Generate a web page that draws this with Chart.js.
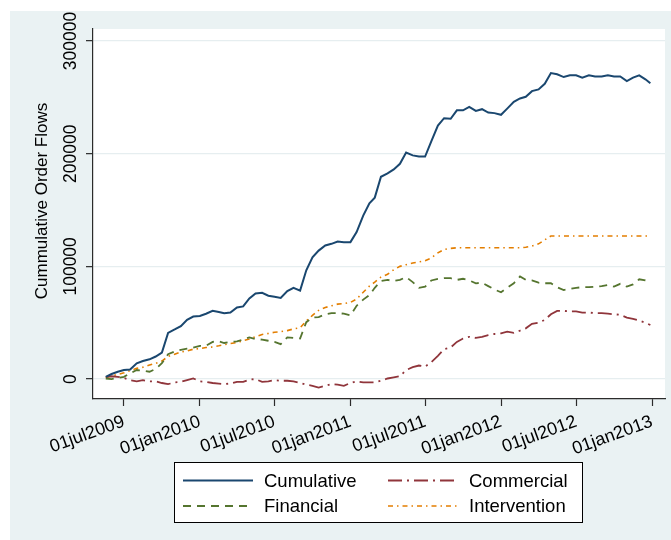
<!DOCTYPE html>
<html>
<head>
<meta charset="utf-8">
<title>Cummulative Order Flows</title>
<script src="https://cdn.jsdelivr.net/npm/chart.js@4.4.1/dist/chart.umd.min.js"></script>
<style>
  html, body { margin: 0; padding: 0; background: #ffffff; }
  canvas { display: block; }
</style>
</head>
<body>
<canvas id="flows" width="671" height="540"></canvas>
<script>
// Observation dates (semi-monthly)
const dates = [
  '2009-05-18','2009-06-01','2009-06-16','2009-07-01','2009-07-16','2009-08-01','2009-08-16','2009-09-01',
  '2009-09-16','2009-10-01','2009-10-16','2009-11-01','2009-11-16','2009-12-01','2009-12-16',
  '2010-01-01','2010-01-16','2010-02-01','2010-02-16','2010-03-01','2010-03-16','2010-04-01','2010-04-16',
  '2010-05-01','2010-05-16','2010-06-01','2010-06-16','2010-07-01','2010-07-16','2010-08-01','2010-08-16',
  '2010-09-01','2010-09-16','2010-10-01','2010-10-16','2010-11-01','2010-11-16','2010-12-01','2010-12-16',
  '2011-01-01','2011-01-16','2011-02-01','2011-02-16','2011-03-01','2011-03-16','2011-04-01','2011-04-16',
  '2011-05-01','2011-05-16','2011-06-01','2011-06-16','2011-07-01','2011-07-16','2011-08-01','2011-08-16',
  '2011-09-01','2011-09-16','2011-10-01','2011-10-16','2011-11-01','2011-11-16','2011-12-01','2011-12-16',
  '2012-01-01','2012-01-16','2012-02-01','2012-02-16','2012-03-01','2012-03-16','2012-04-01','2012-04-16',
  '2012-05-01','2012-05-16','2012-06-01','2012-06-16','2012-07-01','2012-07-16','2012-08-01','2012-08-16',
  '2012-09-01','2012-09-16','2012-10-01','2012-10-16','2012-11-01','2012-11-16','2012-12-01','2012-12-16',
  '2012-12-28'
];

const cumulative = [
  2000, 4500, 6500, 8000, 8500, 14000, 16000, 17500, 20000, 23500, 41000, 44000, 47000, 52500, 55500,
  56000, 58000, 60500, 59500, 58500, 59000, 63500, 64500, 71500, 76000, 76500, 74000,
  73000, 72000, 78000, 81000, 78500, 96500, 108000, 114000, 118500, 120000, 122000, 121500,
  121500, 130500, 145000, 156000, 161000, 179500, 182500, 186000, 191000, 201000, 198500, 197500,
  197500, 211000, 225000, 231500, 231000, 238500, 238500, 241500, 238000, 239500, 236500, 236000,
  234500, 240000, 246000, 249000, 250500, 255500, 257000, 262000, 271500, 270500, 268000, 269500,
  269500, 267500, 269500, 268500, 268500, 269500, 268500, 268500, 264500, 267500, 269500, 266000,
  262500
];

const financial = [
  500, 0, 1000, 2000, 5000, 8000, 7500, 6500, 9000, 14000, 22000, 24500, 26000, 27000, 28000,
  29500, 29500, 33000, 33500, 32000, 33000, 33500, 35000, 37000, 35500, 35000, 34000,
  33000, 31000, 37000, 36500, 36000, 50500, 54500, 55000, 57500, 58500, 58500, 58000,
  56500, 65000, 70500, 74500, 81000, 87000, 88000, 87000, 88000, 90500, 86000, 81000,
  82000, 87500, 89000, 89500, 89500, 88000, 89000, 87500, 85000, 85500, 82500, 79500,
  77000, 81000, 85000, 91000, 88000, 87500, 85500, 85000, 85000, 81500, 79000, 80000,
  81000, 81500, 81500, 82000, 82500, 83500, 82000, 84500, 82000, 84000, 88500, 87500,
  86000
];

const commercial = [
  2000, 2500, 2000, 1000, -1000, -2000, -1000, -2000, -2000, -3500, -4500, -3000, -2500, -1000, 500,
  -2000, -2500, -3500, -4000, -4500, -4000, -2500, -2500, -500, 0, -2500, -2000,
  -1000, -1500, -1500, -2000, -3500, -5000, -6000, -7500, -6000, -4500, -5000, -6000,
  -3500, -2000, -3000, -3000, -3000, -1500, 500, 1500, 2500, 8000, 10500, 12000,
  11000, 15000, 20500, 26500, 28000, 33000, 36000, 37500, 36500, 37500, 39000, 40000,
  40500, 42000, 41000, 43000, 45000, 49000, 50000, 52500, 57500, 60500, 60500, 60000,
  60000, 59000, 59000, 58500, 58500, 58000, 57500, 57000, 54500, 53500, 52000, 50000,
  48000
];

const intervention = [
  1000, 3000, 4000, 5500, 7500, 9500, 10500, 12500, 14000, 16000, 20000, 22000, 24000, 25000, 26500,
  27000, 28000, 28500, 29500, 30500, 31500, 32500, 34000, 35500, 37500, 39500, 40500,
  41500, 42000, 43000, 44500, 45500, 51500, 56500, 61000, 63500, 65000, 66500, 67000,
  68000, 71000, 77000, 82500, 86000, 90500, 93000, 97000, 100000, 101500, 103000, 104000,
  105000, 107500, 112000, 115000, 116000, 116500, 116500, 116500, 116500, 116500, 116500, 116500,
  116500, 116500, 116500, 116500, 117000, 118000, 120000, 123500, 127000, 127000, 127000, 127000,
  127000, 127000, 127000, 127000, 127000, 127000, 127000, 127000, 127000, 127000, 127000, 127000,
  127000
];

const seriesNames = ['Cumulative', 'Financial', 'Commercial', 'Intervention'];
const xTickDates = ['2009-07-01','2010-01-01','2010-07-01','2011-01-01','2011-07-01','2012-01-01','2012-07-01','2013-01-01'];
const yTickValues = [0, 100000, 200000, 300000];
const yTitle = 'Cummulative Order Flows';

// Dates become day numbers counted from 1 July 2009
const DAY0 = Date.UTC(2009, 6, 1);
const MONTHS = ['jan','feb','mar','apr','may','jun','jul','aug','sep','oct','nov','dec'];
function toDay(s) {
  const [y, m, d] = s.split('-').map(Number);
  return (Date.UTC(y, m - 1, d) - DAY0) / 86400000;
}
function stataDate(day) {
  const dt = new Date(DAY0 + day * 86400000);
  const dd = String(dt.getUTCDate()).padStart(2, '0');
  return dd + MONTHS[dt.getUTCMonth()] + dt.getUTCFullYear();
}
const xDays = dates.map(toDay);
const pts = vals => vals.map((v, i) => ({ x: xDays[i], y: v }));

const FONT = '"Liberation Sans", Arial, Helvetica, sans-serif';
const GRAPH_BG = '#eaf2f3';
const AXIS = '#2b2b2b';

const datasets = [
  { label: seriesNames[0], data: pts(cumulative),   borderColor: '#1a476f', borderWidth: 2.0, borderDash: [] },
  { label: seriesNames[1], data: pts(financial),    borderColor: '#55752f', borderWidth: 1.8, borderDash: [8, 6] },
  { label: seriesNames[2], data: pts(commercial),   borderColor: '#90353b', borderWidth: 1.8, borderDash: [14, 5, 2, 5] },
  { label: seriesNames[3], data: pts(intervention), borderColor: '#e37e00', borderWidth: 1.6, borderDash: [5, 4, 1.5, 4] }
].map(d => Object.assign(d, { pointRadius: 0, tension: 0, fill: false }));

// Graph region, plot region, rotated y labels, y title and boxed legend
const stataFrame = {
  id: 'stataFrame',
  beforeDraw(chart) {
    const { ctx, chartArea: a } = chart;
    ctx.save();
    ctx.fillStyle = '#ffffff';
    ctx.fillRect(0, 0, chart.width, chart.height);
    ctx.fillStyle = GRAPH_BG;
    ctx.fillRect(10, 11, chart.width - 10, chart.height - 11);
    ctx.fillStyle = '#ffffff';
    ctx.fillRect(a.left, a.top, a.right - a.left, a.bottom - a.top);
    ctx.restore();
  },
  afterDraw(chart) {
    const { ctx } = chart;
    const ys = chart.scales.y;
    ctx.save();
    ctx.fillStyle = '#000000';
    ctx.textAlign = 'center';
    ctx.textBaseline = 'middle';
    ctx.font = '17.5px ' + FONT;
    ys.ticks.forEach(t => {
      const py = ys.getPixelForValue(t.value);
      ctx.save();
      ctx.translate(71, py);
      ctx.rotate(-Math.PI / 2);
      ctx.fillText(String(t.value), 0, 0);
      ctx.restore();
    });
    ctx.font = '17px ' + FONT;
    ctx.save();
    ctx.translate(42, 201);
    ctx.rotate(-Math.PI / 2);
    ctx.fillText(yTitle, 0, 0);
    ctx.restore();

    // legend
    const box = { x: 174.5, y: 462.5, w: 408, h: 60 };
    ctx.fillStyle = '#ffffff';
    ctx.fillRect(box.x, box.y, box.w, box.h);
    ctx.strokeStyle = '#000000';
    ctx.lineWidth = 1;
    ctx.strokeRect(box.x, box.y, box.w, box.h);
    const slots = [
      { i: 0, lx: 183, tx: 264, y: 480.5 },
      { i: 2, lx: 388, tx: 469, y: 480.5 },
      { i: 1, lx: 183, tx: 264, y: 506 },
      { i: 3, lx: 388, tx: 469, y: 506 }
    ];
    ctx.font = '18.5px ' + FONT;
    ctx.textAlign = 'left';
    slots.forEach(s => {
      const ds = chart.data.datasets[s.i];
      ctx.save();
      ctx.strokeStyle = ds.borderColor;
      ctx.lineWidth = ds.borderWidth;
      ctx.setLineDash(ds.borderDash);
      ctx.beginPath();
      ctx.moveTo(s.lx, s.y);
      ctx.lineTo(s.lx + 70, s.y);
      ctx.stroke();
      ctx.restore();
      ctx.fillStyle = '#000000';
      ctx.fillText(ds.label, s.tx, s.y + 1);
    });
    ctx.restore();
  }
};

new Chart(document.getElementById('flows'), {
  type: 'line',
  data: { datasets },
  plugins: [stataFrame],
  options: {
    responsive: false,
    animation: false,
    devicePixelRatio: 1,
    layout: { padding: { left: 0, top: 29, right: 6, bottom: 0 } },
    plugins: { legend: { display: false }, tooltip: { enabled: false } },
    scales: {
      x: {
        type: 'linear',
        min: toDay('2009-04-17'),
        max: toDay('2013-02-01') + 0.5,
        afterBuildTicks: s => { s.ticks = xTickDates.map(d => ({ value: toDay(d) })); },
        afterFit: s => { s.height = 141; },
        grid: { drawOnChartArea: false, tickLength: 7, tickColor: AXIS, tickWidth: 1.2 },
        border: { display: true, color: AXIS, width: 1.2 },
        ticks: {
          autoSkip: false, minRotation: 20, maxRotation: 20, padding: 5,
          color: '#000000', font: { family: FONT, size: 18 },
          callback: v => stataDate(v)
        }
      },
      y: {
        type: 'linear',
        min: -17700,
        max: 310650,
        afterBuildTicks: s => { s.ticks = yTickValues.map(v => ({ value: v })); },
        afterFit: s => { s.width = 93; },
        grid: { color: '#e6eef0', lineWidth: 1.3, tickLength: 7, tickColor: AXIS, tickWidth: 1.2 },
        border: { display: true, color: AXIS, width: 1.2 },
        ticks: { display: false }
      }
    }
  }
});
</script>
</body>
</html>
